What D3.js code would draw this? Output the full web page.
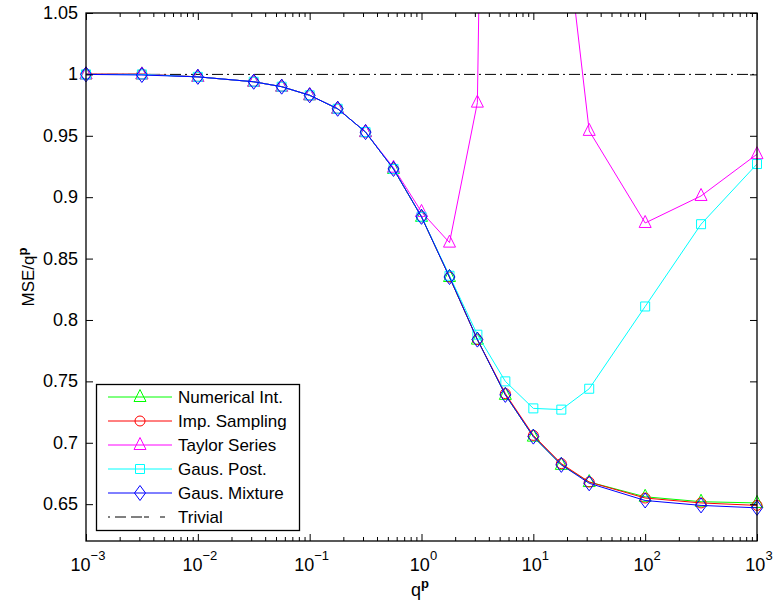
<!DOCTYPE html>
<html>
<head>
<meta charset="utf-8">
<script src="https://cdn.jsdelivr.net/npm/d3@7"></script>
<style>
  html, body { margin: 0; padding: 0; background: #fff; }
  svg { display: block; font-family: "Liberation Sans", Arial, Helvetica, sans-serif; }
</style>
</head>
<body>
<svg id="chart" width="773" height="605"></svg>
<script>
// ---- data ----
const qValues = [0.001, 0.00316, 0.01, 0.0316, 0.0562, 0.1, 0.178, 0.316, 0.562, 1, 1.78, 3.16, 5.62, 10, 17.8, 31.6, 100, 316, 1000];
const numericalInt = [1.000, 1.000, 0.998, 0.994, 0.990, 0.983, 0.972, 0.953, 0.923, 0.884, 0.835, 0.784, 0.739, 0.705, 0.682, 0.668, 0.656, 0.652, 0.651];
const impSampling  = [1.0003, 1.0003, 0.998, 0.994, 0.990, 0.983, 0.972, 0.953, 0.923, 0.884, 0.835, 0.784, 0.740, 0.706, 0.683, 0.668, 0.655, 0.651, 0.649];
const taylorSeries = [1.000, 1.000, 0.998, 0.994, 0.990, 0.983, 0.972, 0.953, 0.924, 0.888, 0.863, 0.977, 2.5, 3.0, 1.15, 0.954, 0.879, 0.901, 0.935];
const gausPost     = [1.000, 1.000, 0.998, 0.994, 0.990, 0.983, 0.972, 0.953, 0.923, 0.884, 0.836, 0.788, 0.750, 0.728, 0.727, 0.744, 0.811, 0.878, 0.927];
const gausMixture  = [1.000, 0.9995, 0.998, 0.994, 0.990, 0.983, 0.972, 0.953, 0.923, 0.884, 0.835, 0.784, 0.739, 0.705, 0.682, 0.667, 0.653, 0.649, 0.647];
const trivialValue = 1.0;
const seriesNames = ["Numerical Int.", "Imp. Sampling", "Taylor Series", "Gaus. Post.", "Gaus. Mixture", "Trivial"];
const xTickExps = [-3, -2, -1, 0, 1, 2, 3];
const yTicks = [0.65, 0.7, 0.75, 0.8, 0.85, 0.9, 0.95, 1, 1.05];
const yTickLabels = ["0.65", "0.7", "0.75", "0.8", "0.85", "0.9", "0.95", "1", "1.05"];

// ---- layout ----
const svg = d3.select("#chart");
const L = 86, R = 757, T = 13, B = 541;
const x = d3.scaleLog().domain([1e-3, 1e3]).range([L, R]);
const y = d3.scaleLinear().domain([0.62, 1.05]).range([B, T]);

const series = [
  { name: seriesNames[0], values: numericalInt, color: "#00ff00", marker: "triangle" },
  { name: seriesNames[1], values: impSampling,  color: "#ff0000", marker: "circle" },
  { name: seriesNames[2], values: taylorSeries, color: "#ff00ff", marker: "triangle" },
  { name: seriesNames[3], values: gausPost,     color: "#00ffff", marker: "square" },
  { name: seriesNames[4], values: gausMixture,  color: "#0000ff", marker: "diamond" }
];

svg.append("defs").append("clipPath").attr("id", "clip")
  .append("rect").attr("x", L).attr("y", T).attr("width", R - L).attr("height", B - T);

function markerPath(type) {
  if (type === "triangle") return "M0,-7.5L6,4.5L-6,4.5Z";
  if (type === "circle") return "M5,0A5,5 0 1,1 -5,0A5,5 0 1,1 5,0Z";
  if (type === "square") return "M-4.5,-4.5L4.5,-4.5L4.5,4.5L-4.5,4.5Z";
  if (type === "diamond") return "M0,-7.5L5.5,0L0,7.5L-5.5,0Z";
  return "";
}

// Trivial line
svg.append("line")
  .attr("x1", x(1e-3)).attr("x2", x(1e3))
  .attr("y1", y(trivialValue)).attr("y2", y(trivialValue))
  .attr("stroke", "#000").attr("stroke-width", 1)
  .attr("stroke-dasharray", "11,4,2,4");

const lineGen = d3.line().x((d, i) => x(qValues[i])).y(d => y(d));
const plot = svg.append("g");
series.forEach(s => {
  plot.append("path")
    .attr("d", lineGen(s.values))
    .attr("fill", "none").attr("stroke", s.color).attr("stroke-width", 1)
    .attr("clip-path", "url(#clip)");
  plot.selectAll(null)
    .data(s.values.map((v, i) => [qValues[i], v]).filter(d => d[1] <= 1.05 && d[1] >= 0.62))
    .enter().append("path")
    .attr("transform", d => `translate(${x(d[0])},${y(d[1])})`)
    .attr("d", markerPath(s.marker))
    .attr("fill", "none").attr("stroke", s.color).attr("stroke-width", 1);
});

// ---- axes ----
const majors = xTickExps.map(e => Math.pow(10, e));
const minors = [];
xTickExps.slice(0, -1).forEach(e => { for (let k = 2; k <= 9; k++) minors.push(k * Math.pow(10, e)); });

function styleAxis(g) {
  g.select(".domain").remove();
  g.selectAll("line").attr("stroke", "#000").attr("stroke-width", 1);
}
svg.append("g").attr("transform", `translate(0,${B})`)
  .call(d3.axisBottom(x).tickValues(majors).tickSizeInner(-7).tickSizeOuter(0).tickFormat("")).call(styleAxis);
svg.append("g").attr("transform", `translate(0,${B})`)
  .call(d3.axisBottom(x).tickValues(minors).tickSizeInner(-4).tickSizeOuter(0).tickFormat("")).call(styleAxis);
svg.append("g").attr("transform", `translate(0,${T})`)
  .call(d3.axisTop(x).tickValues(majors).tickSizeInner(-7).tickSizeOuter(0).tickFormat("")).call(styleAxis);
svg.append("g").attr("transform", `translate(0,${T})`)
  .call(d3.axisTop(x).tickValues(minors).tickSizeInner(-4).tickSizeOuter(0).tickFormat("")).call(styleAxis);
svg.append("g").attr("transform", `translate(${L},0)`)
  .call(d3.axisLeft(y).tickValues(yTicks).tickSizeInner(-7).tickSizeOuter(0).tickFormat("")).call(styleAxis);
svg.append("g").attr("transform", `translate(${R},0)`)
  .call(d3.axisRight(y).tickValues(yTicks).tickSizeInner(-7).tickSizeOuter(0).tickFormat("")).call(styleAxis);

// box
svg.append("rect").attr("x", L).attr("y", T).attr("width", R - L).attr("height", B - T)
  .attr("fill", "none").attr("stroke", "#000").attr("stroke-width", 1.3);

// x tick labels
xTickExps.forEach(e => {
  const t = svg.append("text").attr("x", x(Math.pow(10, e)) + 2).attr("y", 571)
    .attr("text-anchor", "middle").attr("font-size", 18).attr("fill", "#000");
  t.append("tspan").text("10");
  t.append("tspan").attr("dy", -11).attr("font-size", 13).text(e < 0 ? "\u2212" + Math.abs(e) : String(e));
});
// y tick labels
yTicks.forEach((v, i) => {
  svg.append("text").attr("x", 78).attr("y", y(v) + 6)
    .attr("text-anchor", "end").attr("font-size", 18).attr("fill", "#000").text(yTickLabels[i]);
});

// axis labels
const xl = svg.append("text").attr("x", 420).attr("y", 596).attr("text-anchor", "middle")
  .attr("font-size", 18).attr("fill", "#000");
xl.append("tspan").text("q");
xl.append("tspan").attr("dy", -8).attr("font-size", 13).attr("font-weight", "bold").text("p");

const yl = svg.append("text").attr("transform", `translate(34,${(T + B) / 2}) rotate(-90)`)
  .attr("text-anchor", "middle").attr("font-size", 17).attr("fill", "#000");
yl.append("tspan").text("MSE/q");
yl.append("tspan").attr("dy", -7).attr("font-size", 13).attr("font-weight", "bold").text("p");

// ---- legend ----
const lg = svg.append("g");
lg.append("rect").attr("x", 96.5).attr("y", 384.5).attr("width", 203).attr("height", 146)
  .attr("fill", "#fff").attr("stroke", "#000").attr("stroke-width", 1.3);
const rowY = [397, 421, 445, 469, 493, 517];
series.forEach((s, i) => {
  lg.append("line").attr("x1", 108).attr("x2", 172).attr("y1", rowY[i]).attr("y2", rowY[i])
    .attr("stroke", s.color).attr("stroke-width", 1);
  lg.append("path").attr("transform", `translate(140,${rowY[i]})`).attr("d", markerPath(s.marker))
    .attr("fill", "none").attr("stroke", s.color).attr("stroke-width", 1);
  lg.append("text").attr("x", 178).attr("y", rowY[i] + 6).attr("font-size", 17).attr("fill", "#000").text(s.name);
});
lg.append("line").attr("x1", 108).attr("x2", 172).attr("y1", rowY[5]).attr("y2", rowY[5])
  .attr("stroke", "#000").attr("stroke-width", 1).attr("stroke-dasharray", "2,5,11,5,11");
lg.append("text").attr("x", 178).attr("y", rowY[5] + 6).attr("font-size", 17).attr("fill", "#000").text(seriesNames[5]);
</script>
</body>
</html>
